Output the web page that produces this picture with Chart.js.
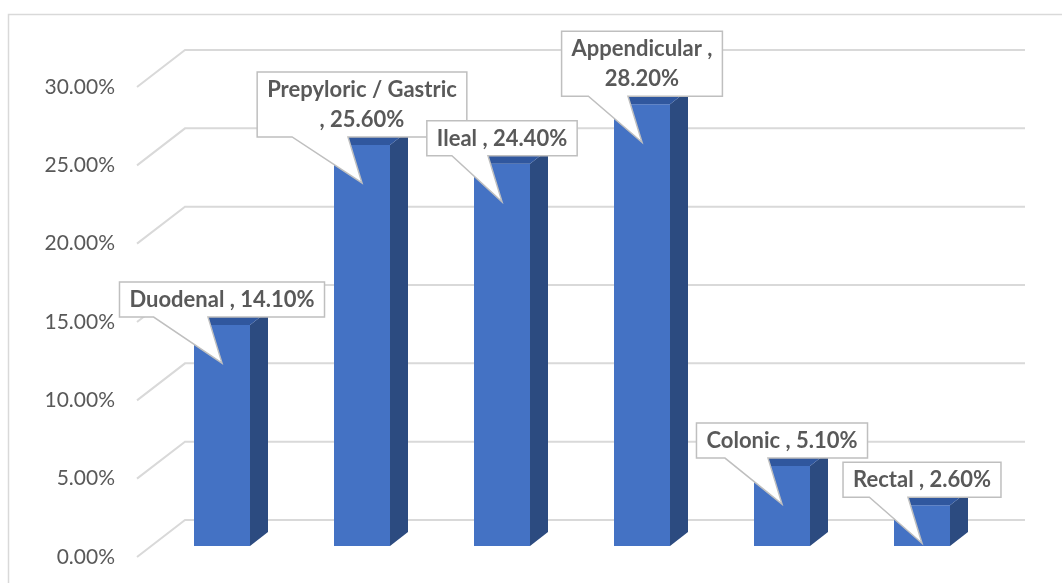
<!DOCTYPE html>
<html>
<head>
<meta charset="utf-8">
<script src="https://cdn.jsdelivr.net/npm/chart.js@4/dist/chart.umd.min.js"></script>
<style>
  body { margin: 0; background: #fff; }
  #wrap { width: 1062px; height: 583px; position: relative; }
</style>
</head>
<body>
<div id="wrap"><canvas id="siteChart"></canvas></div>
<script>
// chart data
const categories = ['Duodenal', 'Prepyloric / Gastric', 'Ileal', 'Appendicular', 'Colonic', 'Rectal'];
const shares = [14.1, 25.6, 24.4, 28.2, 5.1, 2.6];
const yTicks = [0, 5, 10, 15, 20, 25, 30];

const FRONT = '#4472C4';
const SIDE = '#2C4B80';
const TOP = '#30579E';
const GRID = '#D9D9D9';
const TEXT = '#595959';
const DEPTH = { dx: 18, dy: -14 };   // bar depth
const WALL = { dx: 33, dy: -26 };    // back wall offset
const FLOOR = { dx: -15, dy: 11 };   // front edge of floor

function fmt(v) { return v.toFixed(2) + '%'; }

function wrapText(ctx, text, maxW) {
  const words = text.split(' ');
  const lines = [];
  let cur = '';
  for (const w of words) {
    const test = cur ? cur + ' ' + w : w;
    if (cur && ctx.measureText(test).width > maxW) {
      lines.push(cur);
      cur = w;
    } else {
      cur = test;
    }
  }
  if (cur) lines.push(cur);
  return lines;
}

const frame3d = {
  id: 'frame3d',
  beforeDraw(chart) {
    const ctx = chart.ctx;
    ctx.save();
    ctx.strokeStyle = GRID;
    ctx.lineWidth = 1.5;
    ctx.strokeRect(8.5, 14.5, 1200, 800);
    ctx.restore();
  },
  beforeDatasetsDraw(chart) {
    const { ctx, chartArea, scales } = chart;
    ctx.save();
    ctx.strokeStyle = GRID;
    ctx.lineWidth = 2;
    ctx.fillStyle = TEXT;
    ctx.font = '21px Lato';
    ctx.textAlign = 'right';
    ctx.textBaseline = 'middle';
    yTicks.forEach(v => {
      const y = scales.y.getPixelForValue(v);
      ctx.beginPath();
      ctx.moveTo(chartArea.left + FLOOR.dx, y + FLOOR.dy);
      ctx.lineTo(chartArea.left + WALL.dx, y + WALL.dy);
      ctx.lineTo(chartArea.right + WALL.dx, y + WALL.dy);
      ctx.stroke();
      ctx.fillText(fmt(v), chartArea.left - 37, y + FLOOR.dy);
    });
    ctx.restore();
  },
  afterDatasetsDraw(chart) {
    const ctx = chart.ctx;
    const bars = chart.getDatasetMeta(0).data;
    ctx.save();
    // side and top faces
    bars.forEach(bar => {
      const l = bar.x - bar.width / 2, r = bar.x + bar.width / 2;
      ctx.fillStyle = SIDE;
      ctx.beginPath();
      ctx.moveTo(r, bar.y);
      ctx.lineTo(r + DEPTH.dx, bar.y + DEPTH.dy);
      ctx.lineTo(r + DEPTH.dx, bar.base + DEPTH.dy);
      ctx.lineTo(r, bar.base);
      ctx.closePath();
      ctx.fill();
      ctx.fillStyle = TOP;
      ctx.beginPath();
      ctx.moveTo(l, bar.y);
      ctx.lineTo(l + DEPTH.dx, bar.y + DEPTH.dy);
      ctx.lineTo(r + DEPTH.dx, bar.y + DEPTH.dy);
      ctx.lineTo(r, bar.y);
      ctx.closePath();
      ctx.fill();
    });
    // callout labels
    ctx.font = 'bold 22px Lato';
    ctx.textAlign = 'center';
    ctx.textBaseline = 'middle';
    bars.forEach((bar, i) => {
      const lines = wrapText(ctx, categories[i] + ' , ' + fmt(shares[i]), 196);
      const tw = Math.max(...lines.map(s => ctx.measureText(s).width));
      const lh = 30;
      const w = tw + 20, h = lines.length * lh + 5;
      const cx = bar.x;
      const bottom = bar.y - 8, top = bottom - h;
      const left = cx - w / 2, right = cx + w / 2;
      const tipY = bar.y + 38;
      ctx.beginPath();
      ctx.moveTo(left, top);
      ctx.lineTo(right, top);
      ctx.lineTo(right, bottom);
      ctx.lineTo(cx - 14, bottom);
      ctx.lineTo(cx, tipY);
      ctx.lineTo(cx - w / 3, bottom);
      ctx.lineTo(left, bottom);
      ctx.closePath();
      ctx.fillStyle = '#fff';
      ctx.fill();
      ctx.strokeStyle = '#BFBFBF';
      ctx.lineWidth = 1.5;
      ctx.stroke();
      ctx.fillStyle = TEXT;
      lines.forEach((s, k) => {
        ctx.fillText(s, cx, top + 3 + lh * k + lh / 2);
      });
    });
    ctx.restore();
  }
};

new Chart(document.getElementById('siteChart'), {
  type: 'bar',
  data: {
    labels: categories,
    datasets: [{
      data: shares,
      backgroundColor: FRONT,
      categoryPercentage: 1,
      barPercentage: 0.4
    }]
  },
  options: {
    responsive: true,
    maintainAspectRatio: false,
    animation: false,
    layout: { padding: { top: 76, right: 70, bottom: 37, left: 0 } },
    plugins: { legend: { display: false }, tooltip: { enabled: false } },
    scales: {
      x: { display: false },
      y: {
        min: 0,
        max: 30,
        afterFit(axis) { axis.width = 152; },
        grid: { display: false },
        border: { display: false },
        ticks: { display: false, stepSize: 5 }
      }
    }
  },
  plugins: [frame3d]
});
</script>
</body>
</html>
